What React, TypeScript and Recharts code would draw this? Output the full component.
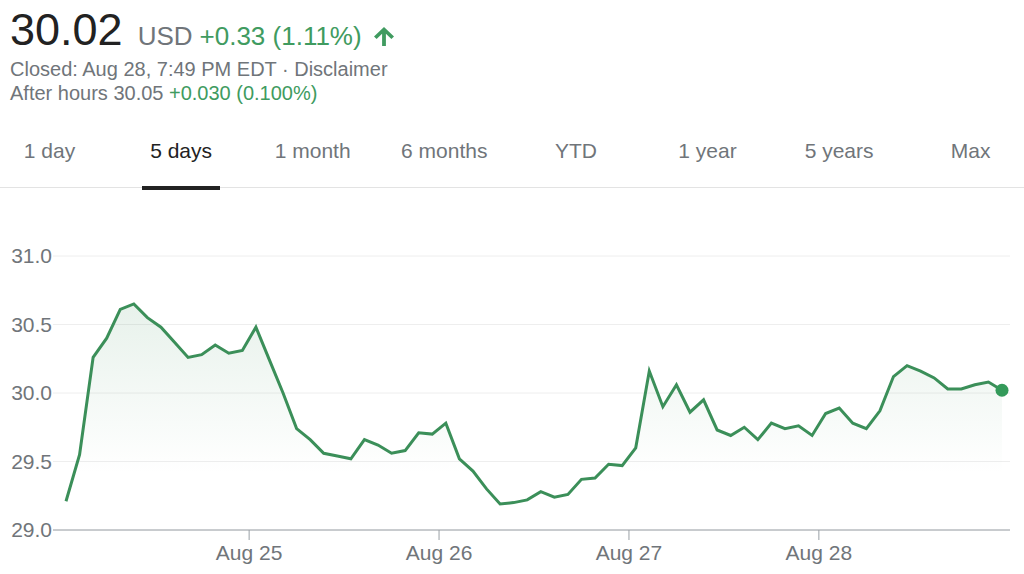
import {
  AreaChart,
  Area,
  XAxis,
  YAxis,
  CartesianGrid,
  ReferenceDot,
} from 'recharts';

// Half-hourly closes, Aug 24 - Aug 28 (14 points per day)
const prices = [
  29.21, 29.55, 30.26, 30.4, 30.61, 30.65, 30.55, 30.48, 30.37, 30.26, 30.28, 30.35, 30.29, 30.31,
  30.48, 30.24, 30.0, 29.74, 29.66, 29.56, 29.54, 29.52, 29.66, 29.62, 29.56, 29.58, 29.71, 29.7,
  29.78, 29.52, 29.43, 29.3, 29.19, 29.2, 29.22, 29.28, 29.24, 29.26, 29.37, 29.38, 29.48, 29.47,
  29.6, 30.16, 29.9, 30.06, 29.86, 29.95, 29.73, 29.69, 29.75, 29.66, 29.78, 29.74, 29.76, 29.69,
  29.85, 29.89, 29.78, 29.74, 29.87, 30.12, 30.2, 30.16, 30.11, 30.03, 30.03, 30.06, 30.08, 30.02,
];
const pointsPerDay = 14;
const dayLabels = ['Aug 25', 'Aug 26', 'Aug 27', 'Aug 28'];
const priceTicks = [29, 29.5, 30, 30.5, 31];
const tabs = ['1 day', '5 days', '1 month', '6 months', 'YTD', '1 year', '5 years', 'Max'];
const activeTab = 1;

const chartData = prices.map((price, i) => ({ i, price }));
const dayTicks = dayLabels.map((_, k) => (k + 1) * pointsPerDay - 0.5);
const lastIdx = prices.length - 1;

const FONT = '"Liberation Sans", Arial, Helvetica, sans-serif';
const GREY = '#70757a';
const GREEN = '#409b60';
const LINE = '#3b8f59';

const App = () => {
  return (
    <div
      style={{
        position: 'absolute',
        left: 0,
        top: 0,
        width: 1024,
        height: 574,
        background: '#fff',
        fontFamily: FONT,
        overflow: 'hidden',
      }}
    >
      {/* Quote header */}
      <div
        style={{
          position: 'absolute',
          left: 10,
          top: 7,
          display: 'flex',
          alignItems: 'baseline',
          lineHeight: 1,
          whiteSpace: 'nowrap',
        }}
      >
        <span style={{ fontSize: 45, color: '#222' }}>30.02</span>
        <span style={{ fontSize: 26, color: GREY, marginLeft: 15 }}>USD</span>
        <span style={{ fontSize: 26, color: GREEN, marginLeft: 7 }}>+0.33 (1.11%)</span>
      </div>
      <svg
        width={20}
        height={19}
        viewBox="0 0 20 19"
        style={{ position: 'absolute', left: 374, top: 27 }}
      >
        <path
          d="M10 0 L20 9.6 L17.4 12.1 L11.9 6.8 L11.9 19 L8.1 19 L8.1 6.8 L2.6 12.1 L0 9.6 Z"
          fill={GREEN}
        />
      </svg>
      <div
        style={{
          position: 'absolute',
          left: 10,
          top: 59,
          fontSize: 20,
          lineHeight: 1,
          color: GREY,
          whiteSpace: 'nowrap',
        }}
      >
        Closed: Aug 28, 7:49 PM EDT · Disclaimer
      </div>
      <div
        style={{
          position: 'absolute',
          left: 10,
          top: 83,
          fontSize: 20,
          lineHeight: 1,
          color: GREY,
          whiteSpace: 'nowrap',
        }}
      >
        After hours 30.05 <span style={{ color: GREEN }}>+0.030 (0.100%)</span>
      </div>

      {/* Range tabs */}
      {tabs.map((t, idx) => (
        <div
          key={t}
          style={{
            position: 'absolute',
            left: 49.5 + idx * 131.6 - 60,
            width: 120,
            top: 140,
            textAlign: 'center',
            fontSize: 21,
            lineHeight: 1,
            color: idx === activeTab ? '#222' : GREY,
            whiteSpace: 'nowrap',
          }}
        >
          {t}
        </div>
      ))}
      <div
        style={{
          position: 'absolute',
          left: 0,
          top: 187,
          width: 1024,
          height: 1,
          background: '#e3e3e3',
        }}
      />
      <div
        style={{
          position: 'absolute',
          left: 142,
          top: 186,
          width: 78,
          height: 4,
          background: '#222',
        }}
      />

      {/* Price chart */}
      <div style={{ position: 'absolute', left: 0, top: 200 }}>
        <AreaChart
          width={1024}
          height={374}
          data={chartData}
          margin={{ top: 56, right: 14, left: 0, bottom: 0 }}
        >
          <defs>
            <linearGradient id="priceFill" x1="0" y1="0" x2="0" y2="1">
              <stop offset="0%" stopColor={LINE} stopOpacity={0.2} />
              <stop offset="75%" stopColor={LINE} stopOpacity={0} />
            </linearGradient>
          </defs>
          <CartesianGrid vertical={false} stroke="#eeeeee" />
          <XAxis
            dataKey="i"
            type="number"
            domain={[0, lastIdx]}
            ticks={dayTicks}
            tickFormatter={(v: number) => dayLabels[Math.round((v + 0.5) / pointsPerDay) - 1]}
            padding={{ left: 13, right: 8 }}
            height={44}
            axisLine={{ stroke: '#9aa0a6' }}
            tickLine={{ stroke: '#9aa0a6' }}
            tickSize={10}
            tickMargin={5}
            tick={{ fill: GREY, fontSize: 21, fontFamily: FONT }}
          />
          <YAxis
            domain={[29, 31]}
            ticks={priceTicks}
            width={53}
            axisLine={false}
            tickLine={false}
            tickSize={0}
            tickMargin={1}
            tickFormatter={(v: number) => v.toFixed(1)}
            tick={{ fill: GREY, fontSize: 21, fontFamily: FONT }}
          />
          <Area
            type="linear"
            dataKey="price"
            stroke={LINE}
            strokeWidth={3}
            fill="url(#priceFill)"
            dot={false}
            activeDot={false}
            isAnimationActive={false}
          />
          <ReferenceDot
            x={lastIdx}
            y={prices[lastIdx]}
            r={6.5}
            fill="#349a5a"
            stroke="none"
          />
        </AreaChart>
      </div>
    </div>
  );
};

export default App;
